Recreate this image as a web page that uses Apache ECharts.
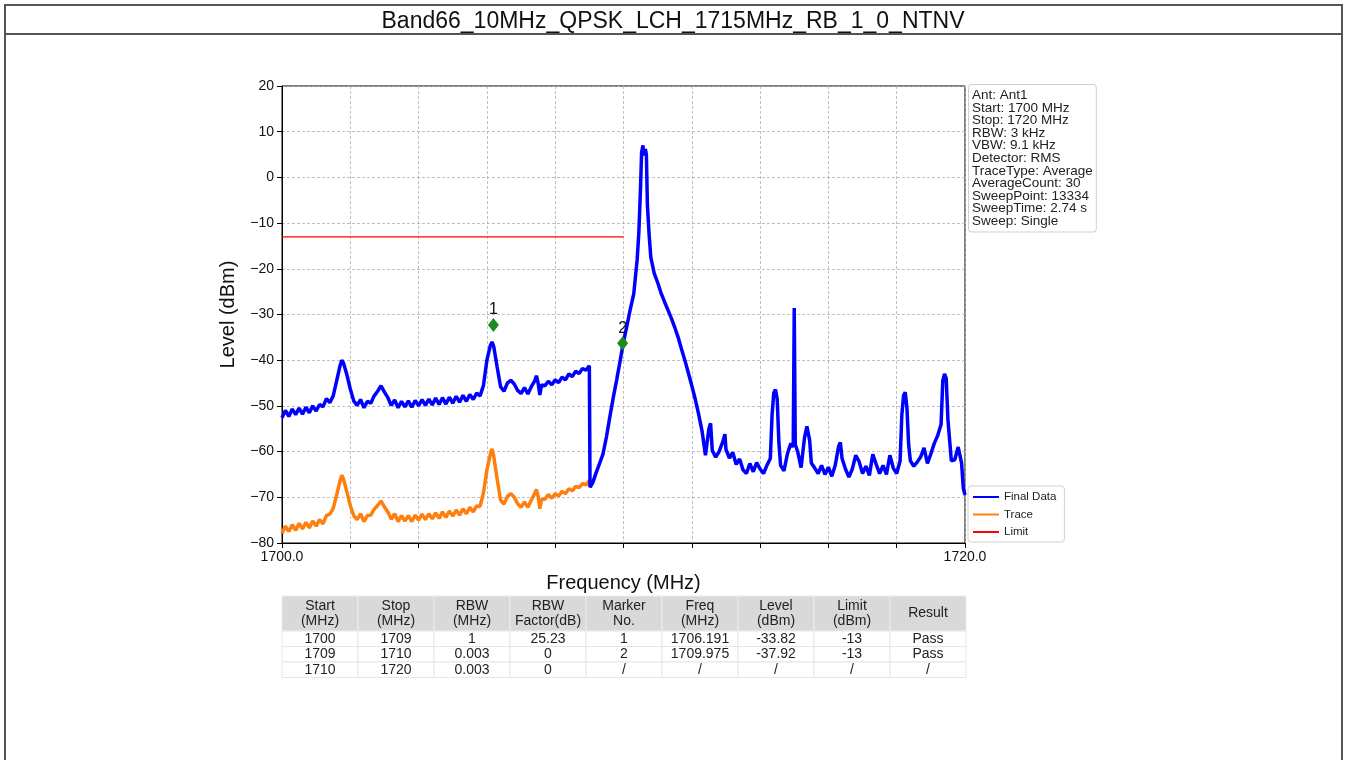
<!DOCTYPE html>
<html>
<head>
<meta charset="utf-8">
<script src="https://cdn.jsdelivr.net/npm/echarts@6/dist/echarts.min.js"></script>
<style>
  html, body { margin: 0; padding: 0; background: #fff; }
  #spectrum { width: 1346px; height: 760px; }
</style>
</head>
<body>
<div id="spectrum"></div>
<script>
const chartTitle = 'Band66_10MHz_QPSK_LCH_1715MHz_RB_1_0_NTNV';

// Final Data trace [MHz, dBm]
const finalData = [
  [1700.0, -52.6], [1700.1, -51.0], [1700.2, -52.3], [1700.3, -50.7], [1700.4, -51.9], [1700.5, -50.5],
  [1700.6, -51.8], [1700.7, -50.3], [1700.8, -51.5], [1700.9, -50.0], [1701.0, -51.1], [1701.1, -49.7],
  [1701.2, -50.2], [1701.3, -48.4], [1701.4, -49.3], [1701.5, -47.8], [1701.6, -44.5], [1701.7, -41.2],
  [1701.75, -40.0], [1701.8, -40.6], [1701.9, -43.2], [1702.0, -46.3], [1702.1, -48.9], [1702.2, -49.9],
  [1702.3, -48.6], [1702.4, -50.4], [1702.5, -49.0], [1702.6, -49.4], [1702.7, -47.8], [1702.8, -46.8],
  [1702.9, -45.6], [1703.0, -47.0], [1703.1, -48.2], [1703.2, -49.9], [1703.3, -48.7], [1703.4, -50.4],
  [1703.5, -49.0], [1703.6, -50.2], [1703.7, -48.9], [1703.8, -50.3], [1703.9, -48.8], [1704.0, -50.0],
  [1704.1, -48.6], [1704.2, -49.9], [1704.3, -48.5], [1704.4, -49.8], [1704.5, -48.3], [1704.6, -49.7],
  [1704.7, -48.2], [1704.8, -49.6], [1704.9, -48.1], [1705.0, -49.4], [1705.1, -47.9], [1705.2, -49.2],
  [1705.3, -47.7], [1705.4, -49.0], [1705.5, -47.5], [1705.6, -48.6], [1705.7, -47.2], [1705.8, -47.8],
  [1705.9, -45.5], [1706.0, -40.0], [1706.1, -36.8], [1706.15, -36.0], [1706.2, -37.0], [1706.3, -41.5],
  [1706.4, -45.8], [1706.5, -46.8], [1706.6, -45.0], [1706.7, -44.4], [1706.8, -45.2], [1706.9, -46.6],
  [1707.0, -47.3], [1707.1, -46.0], [1707.2, -47.4], [1707.3, -45.8], [1707.4, -44.5], [1707.45, -43.4],
  [1707.5, -45.0], [1707.55, -47.6], [1707.6, -45.4], [1707.7, -45.6], [1707.8, -44.6], [1707.9, -45.4],
  [1708.0, -44.3], [1708.1, -44.9], [1708.2, -43.7], [1708.3, -44.3], [1708.4, -43.0], [1708.5, -43.6],
  [1708.6, -42.4], [1708.7, -42.9], [1708.8, -41.8], [1708.9, -42.2], [1709.0, -41.2], [1709.02, -67.8],
  [1709.1, -66.8], [1709.2, -64.6], [1709.3, -62.6], [1709.4, -60.5], [1709.5, -56.8], [1709.6, -52.4],
  [1709.7, -48.2], [1709.8, -44.3], [1709.9, -40.2], [1710.0, -36.0], [1710.1, -32.5], [1710.2, -28.8],
  [1710.3, -25.5], [1710.4, -18.0], [1710.45, -12.0], [1710.5, -2.0], [1710.53, 5.5], [1710.57, 7.0],
  [1710.6, 4.8], [1710.64, 6.2], [1710.67, 5.0], [1710.7, -6.0], [1710.75, -12.5], [1710.8, -17.5],
  [1710.9, -21.0], [1711.0, -23.0], [1711.1, -25.3], [1711.2, -27.2], [1711.3, -29.0], [1711.4, -30.8],
  [1711.5, -32.8], [1711.6, -35.0], [1711.7, -37.6], [1711.8, -40.1], [1711.9, -42.8], [1712.0, -45.6],
  [1712.1, -48.5], [1712.2, -51.8], [1712.3, -55.5], [1712.4, -60.8], [1712.5, -55.0], [1712.55, -53.8],
  [1712.6, -59.8], [1712.7, -61.2], [1712.8, -60.0], [1712.9, -58.0], [1712.97, -56.2], [1713.0, -59.5],
  [1713.1, -61.4], [1713.2, -60.2], [1713.3, -62.8], [1713.4, -61.6], [1713.5, -64.0], [1713.6, -64.8],
  [1713.7, -62.6], [1713.8, -64.4], [1713.9, -62.4], [1714.0, -63.8], [1714.1, -64.8], [1714.2, -63.0],
  [1714.3, -61.5], [1714.35, -52.0], [1714.4, -47.2], [1714.45, -46.4], [1714.5, -48.5], [1714.55, -58.0],
  [1714.6, -63.0], [1714.7, -64.2], [1714.8, -60.5], [1714.9, -58.2], [1714.97, -59.0], [1715.0, -28.6],
  [1715.03, -58.5], [1715.1, -60.0], [1715.2, -63.5], [1715.3, -57.0], [1715.37, -54.5], [1715.45, -57.5],
  [1715.5, -62.5], [1715.6, -63.6], [1715.7, -64.8], [1715.8, -63.0], [1715.9, -65.0], [1716.0, -63.4],
  [1716.1, -65.4], [1716.2, -63.0], [1716.3, -58.8], [1716.35, -58.0], [1716.4, -61.5], [1716.5, -63.8],
  [1716.6, -65.6], [1716.7, -63.8], [1716.8, -60.8], [1716.9, -62.2], [1717.0, -64.8], [1717.1, -63.2],
  [1717.2, -65.2], [1717.3, -60.6], [1717.4, -62.8], [1717.5, -64.8], [1717.6, -63.0], [1717.7, -65.0],
  [1717.8, -60.8], [1717.9, -63.6], [1718.0, -64.8], [1718.1, -62.0], [1718.15, -52.0], [1718.2, -47.8],
  [1718.25, -47.0], [1718.3, -50.5], [1718.35, -58.5], [1718.4, -62.0], [1718.5, -63.2], [1718.6, -62.3],
  [1718.7, -61.2], [1718.8, -59.2], [1718.9, -62.6], [1719.0, -60.5], [1719.1, -58.2], [1719.2, -56.5],
  [1719.3, -54.0], [1719.35, -44.5], [1719.4, -43.0], [1719.45, -44.0], [1719.5, -53.0], [1719.6, -62.0],
  [1719.7, -61.8], [1719.8, -59.0], [1719.9, -62.5], [1719.95, -68.0], [1720.0, -69.5]
];

// Trace (raw, before RBW factor), only up to 1709 MHz
const traceData = [
  [1700.0, -77.9], [1700.1, -76.3], [1700.2, -77.5], [1700.3, -76.0], [1700.4, -77.2], [1700.5, -75.7],
  [1700.6, -76.9], [1700.7, -75.5], [1700.8, -76.7], [1700.9, -75.2], [1701.0, -76.3], [1701.1, -74.9],
  [1701.2, -75.8], [1701.3, -74.0], [1701.4, -73.7], [1701.5, -72.4], [1701.6, -69.5], [1701.7, -66.4],
  [1701.75, -65.2], [1701.8, -66.0], [1701.9, -68.8], [1702.0, -71.8], [1702.1, -74.0], [1702.2, -74.9],
  [1702.3, -73.6], [1702.4, -75.3], [1702.5, -74.0], [1702.6, -73.9], [1702.7, -72.6], [1702.8, -71.8],
  [1702.9, -70.8], [1703.0, -72.1], [1703.1, -73.2], [1703.2, -74.8], [1703.3, -73.6], [1703.4, -75.3],
  [1703.5, -74.0], [1703.6, -75.2], [1703.7, -74.0], [1703.8, -75.3], [1703.9, -73.9], [1704.0, -75.0],
  [1704.1, -73.7], [1704.2, -74.9], [1704.3, -73.6], [1704.4, -74.7], [1704.5, -73.4], [1704.6, -74.6],
  [1704.7, -73.2], [1704.8, -74.4], [1704.9, -73.0], [1705.0, -74.1], [1705.1, -72.8], [1705.2, -73.9],
  [1705.3, -72.5], [1705.4, -73.6], [1705.5, -72.2], [1705.6, -73.2], [1705.7, -71.9], [1705.8, -72.0],
  [1705.9, -69.0], [1706.0, -64.0], [1706.1, -60.6], [1706.15, -59.4], [1706.2, -61.0], [1706.3, -66.0],
  [1706.4, -70.6], [1706.5, -71.5], [1706.6, -69.8], [1706.7, -69.2], [1706.8, -70.0], [1706.9, -71.4],
  [1707.0, -72.2], [1707.1, -71.0], [1707.2, -72.2], [1707.3, -70.6], [1707.4, -69.2], [1707.45, -68.3],
  [1707.5, -69.8], [1707.55, -72.5], [1707.6, -70.4], [1707.7, -70.4], [1707.8, -69.4], [1707.9, -70.2],
  [1708.0, -69.2], [1708.1, -69.7], [1708.2, -68.7], [1708.3, -69.2], [1708.4, -68.1], [1708.5, -68.6],
  [1708.6, -67.6], [1708.7, -67.9], [1708.8, -67.0], [1708.9, -67.3], [1709.0, -66.3], [1709.02, -67.6]
];

const limitData = [[1700, -13], [1710, -13]];
const markerData = [
  { name: '1', value: [1706.191, -32.3] },
  { name: '2', value: [1709.975, -36.3] }
];

const infoLines = [
  'Ant: Ant1', 'Start: 1700 MHz', 'Stop: 1720 MHz', 'RBW: 3 kHz', 'VBW: 9.1 kHz',
  'Detector: RMS', 'TraceType: Average', 'AverageCount: 30', 'SweepPoint: 13334',
  'SweepTime: 2.74 s', 'Sweep: Single'
];

const tableHeader = ['Start\n(MHz)', 'Stop\n(MHz)', 'RBW\n(MHz)', 'RBW\nFactor(dB)', 'Marker\nNo.',
  'Freq\n(MHz)', 'Level\n(dBm)', 'Limit\n(dBm)', 'Result'];
const tableRows = [
  ['1700', '1709', '1', '25.23', '1', '1706.191', '-33.82', '-13', 'Pass'],
  ['1709', '1710', '0.003', '0', '2', '1709.975', '-37.92', '-13', 'Pass'],
  ['1710', '1720', '0.003', '0', '/', '/', '/', '/', '/']
];

const font = "'Liberation Sans', Arial, sans-serif";

function buildTable() {
  const x0 = 282, colW = 76, headTop = 596, headH = 35, rowH = 15.5;
  const els = [];
  tableHeader.forEach((h, i) => {
    els.push({
      type: 'rect', shape: { x: x0 + i * colW, y: headTop, width: colW, height: headH },
      style: { fill: '#d9d9d9', stroke: '#ececec', lineWidth: 1 }
    });
    els.push({
      type: 'text', x: x0 + i * colW + colW / 2, y: headTop + headH / 2,
      style: { text: h, fill: '#222', fontSize: 14, fontFamily: font, lineHeight: 15, align: 'center', verticalAlign: 'middle' }
    });
  });
  tableRows.forEach((row, r) => {
    row.forEach((c, i) => {
      const y = headTop + headH + r * rowH;
      els.push({
        type: 'rect', shape: { x: x0 + i * colW, y: y, width: colW, height: rowH },
        style: { fill: '#fff', stroke: '#e6e6e6', lineWidth: 1 }
      });
      els.push({
        type: 'text', x: x0 + i * colW + colW / 2, y: y + rowH / 2,
        style: { text: c, fill: '#222', fontSize: 14, fontFamily: font, align: 'center', verticalAlign: 'middle' }
      });
    });
  });
  return els;
}

let myChart = echarts.init(document.getElementById('spectrum'));
myChart.setOption({
  animation: false,
  backgroundColor: '#fff',
  textStyle: { fontFamily: font },
  title: {
    text: chartTitle,
    left: 'center',
    top: 5,
    textStyle: { fontSize: 23, fontWeight: 'normal', color: '#111', fontFamily: font }
  },
  legend: {
    data: ['Final Data', 'Trace', 'Limit'],
    orient: 'vertical',
    left: 968,
    top: 486,
    padding: [4, 8, 3, 5],
    itemGap: 3.5,
    itemWidth: 26,
    itemHeight: 2,
    icon: 'rect',
    backgroundColor: '#fff',
    borderColor: '#d0d0d0',
    borderWidth: 1,
    borderRadius: 3,
    textStyle: { fontSize: 11.5, color: '#222', lineHeight: 14, fontFamily: font }
  },
  grid: {
    left: 282, top: 86, width: 683, height: 457,
    show: true, borderColor: '#000', borderWidth: 1, backgroundColor: 'transparent'
  },
  xAxis: {
    type: 'value',
    min: 1700, max: 1720, interval: 2,
    name: 'Frequency (MHz)',
    nameLocation: 'middle',
    nameGap: 30,
    nameTextStyle: { fontSize: 20, color: '#111', fontFamily: font },
    axisLine: { onZero: false, lineStyle: { color: '#000', width: 1 } },
    axisTick: { length: 5, lineStyle: { color: '#000' } },
    axisLabel: {
      fontSize: 14, color: '#111', margin: 7,
      formatter: v => (v === 1700 || v === 1720) ? v.toFixed(1) : ''
    },
    splitLine: { show: true, lineStyle: { color: '#b0b0b0', type: [3, 2], width: 0.8 } }
  },
  yAxis: {
    type: 'value',
    min: -80, max: 20, interval: 10,
    name: 'Level (dBm)',
    nameLocation: 'middle',
    nameGap: 44,
    nameTextStyle: { fontSize: 20, color: '#111', fontFamily: font },
    axisLine: { show: true, onZero: false, lineStyle: { color: '#000', width: 1 } },
    axisTick: { show: true, length: 5, lineStyle: { color: '#000' } },
    axisLabel: { fontSize: 14, color: '#111', margin: 8, formatter: v => String(v).replace('-', '\u2212') },
    splitLine: { show: true, lineStyle: { color: '#b0b0b0', type: [3, 2], width: 0.8 } }
  },
  series: [
    {
      name: 'Trace', type: 'line', data: traceData, showSymbol: false,
      lineStyle: { color: '#ff7f0e', width: 3.5, join: 'bevel' }, itemStyle: { color: '#ff7f0e' }, z: 2
    },
    {
      name: 'Final Data', type: 'line', data: finalData, showSymbol: false,
      lineStyle: { color: '#0000ff', width: 3.5, join: 'bevel' }, itemStyle: { color: '#0000ff' }, z: 3
    },
    {
      name: 'Limit', type: 'line', data: limitData, showSymbol: false,
      lineStyle: { color: '#ff0000', width: 1.3 }, itemStyle: { color: '#ff0000' }, z: 4
    },
    {
      name: 'Markers', type: 'scatter', data: markerData,
      symbol: 'diamond', symbolSize: [11, 14],
      itemStyle: { color: '#1f8a1f', opacity: 1 },
      label: { show: true, position: 'top', distance: 0, formatter: '{b}', fontSize: 16, color: '#111' },
      z: 5
    }
  ],
  graphic: [
    {
      type: 'rect', shape: { x: 5, y: 5, width: 1337, height: 760 },
      style: { fill: 'none', stroke: '#555', lineWidth: 2 }, silent: true
    },
    {
      type: 'line', shape: { x1: 5, y1: 34, x2: 1342, y2: 34 },
      style: { stroke: '#555', lineWidth: 2 }, silent: true
    },
    {
      type: 'text', x: 969, y: 85,
      style: {
        text: infoLines.join('\n'), fill: '#222', fontSize: 13.5, fontFamily: font, lineHeight: 12.6,
        backgroundColor: '#fff', borderColor: '#d0d0d0', borderWidth: 1, borderRadius: 3, padding: [4, 3, 4, 3]
      }
    }
  ].concat(buildTable())
});
</script>
</body>
</html>
